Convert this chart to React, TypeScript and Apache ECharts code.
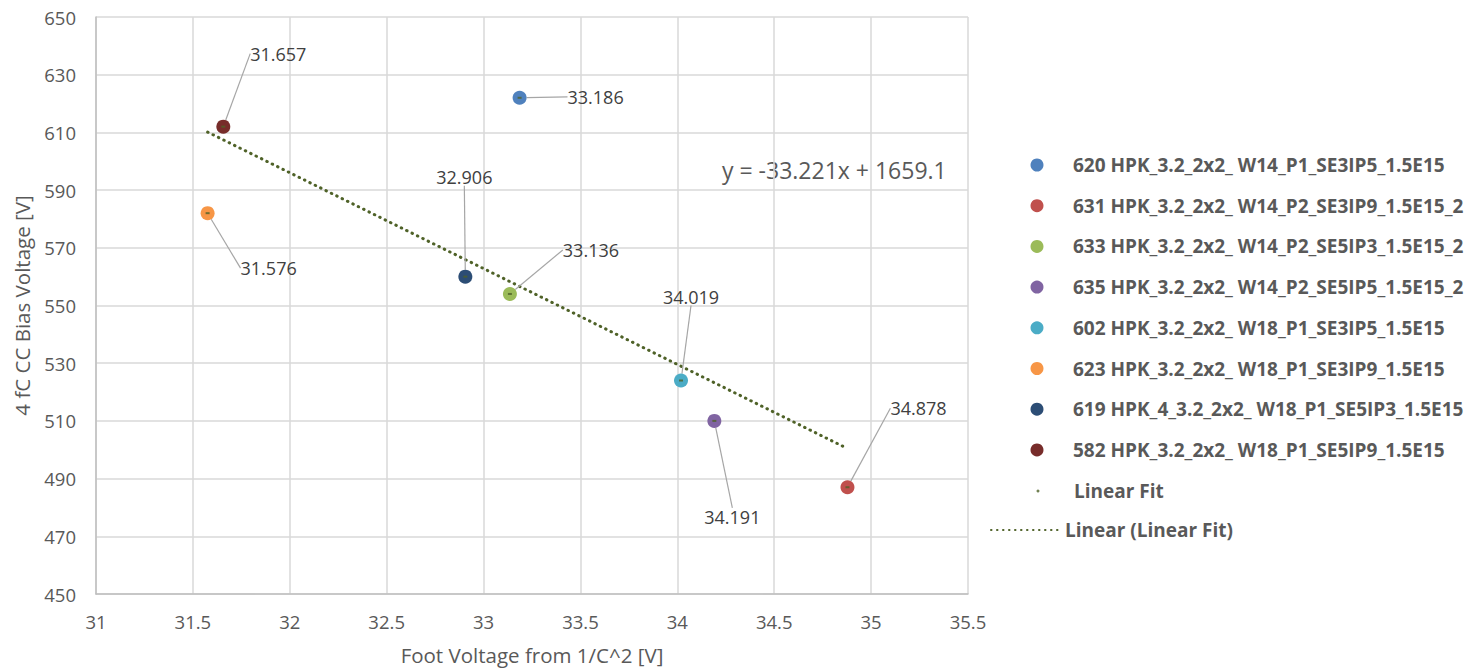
import React, { useEffect, useRef } from "react";
import * as echarts from "echarts";

// ---- data ----
const deviceNames = [
  "620 HPK_3.2_2x2_ W14_P1_SE3IP5_1.5E15",
  "631 HPK_3.2_2x2_ W14_P2_SE3IP9_1.5E15_2",
  "633 HPK_3.2_2x2_ W14_P2_SE5IP3_1.5E15_2",
  "635 HPK_3.2_2x2_ W14_P2_SE5IP5_1.5E15_2",
  "602 HPK_3.2_2x2_ W18_P1_SE3IP5_1.5E15",
  "623 HPK_3.2_2x2_ W18_P1_SE3IP9_1.5E15",
  "619 HPK_4_3.2_2x2_ W18_P1_SE5IP3_1.5E15",
  "582 HPK_3.2_2x2_ W18_P1_SE5IP9_1.5E15",
];
const footVoltage = [33.186, 34.878, 33.136, 34.191, 34.019, 31.576, 32.906, 31.657];
const biasVoltage = [622, 487, 554, 510, 524, 582, 560, 612];
const fitName = "Linear Fit";
const trendName = "Linear (Linear Fit)";
const fitSlope = -33.221;
const fitIntercept = 1659.1;
const xTicks = { min: 31, max: 35.5, interval: 0.5 };
const yTicks = { min: 450, max: 650, interval: 20 };

// ---- styles ----
const deviceColors = ["#4F81BD", "#C0504D", "#9BBB59", "#8064A2", "#4BACC6", "#F79646", "#2C4D75", "#772C2A"];
const fitColor = "#4F6228";
const labelOffsets: [number, number][] = [
  [76, -1],
  [71, -79],
  [81, -44],
  [18, 96],
  [10, -84],
  [61, 55],
  [-1, -100],
  [55, -73],
];
const FONT = "'Open Sans', 'Noto Sans', sans-serif";
const TXT = "#595959";
const legendText = { color: TXT, fontSize: 19, fontWeight: "bold", fontFamily: FONT, lineHeight: 20 };

export default function App() {
  const ref = useRef<HTMLDivElement>(null);
  useEffect(() => {
    if (!ref.current) return;
    const chart = echarts.init(ref.current, undefined, { renderer: "svg" });

    const xMinData = Math.min(...footVoltage);
    const xMaxData = Math.max(...footVoltage);
    const trend = [xMinData, xMaxData].map((x) => [x, fitSlope * x + fitIntercept]);

    const deviceSeries = deviceNames.map((name, i) => ({
      name,
      type: "scatter",
      data: [[footVoltage[i], biasVoltage[i]]],
      symbol: "circle",
      symbolSize: 14,
      itemStyle: { color: deviceColors[i], opacity: 1 },
      z: 3,
      label: {
        show: true,
        position: "inside",
        formatter: (p: any) => p.value[0].toFixed(3),
        color: "#404040",
        fontFamily: FONT,
        fontSize: 18,
      },
      labelLine: { show: true, lineStyle: { color: "#A6A6A6", width: 1.2 } },
      labelLayout: { dx: labelOffsets[i][0], dy: labelOffsets[i][1] },
      emphasis: { disabled: true },
    }));

    const option: any = {
      animation: false,
      textStyle: { fontFamily: FONT },
      grid: { left: 96, right: 516, top: 17, bottom: 74, containLabel: false, outerBoundsMode: "none" },
      xAxis: {
        type: "value",
        min: xTicks.min,
        max: xTicks.max,
        interval: xTicks.interval,
        name: "Foot Voltage from 1/C^2 [V]",
        nameLocation: "middle",
        nameGap: 50,
        nameTextStyle: { color: TXT, fontSize: 20.5, fontFamily: FONT },
        axisLine: { show: true, lineStyle: { color: "#BFBFBF", width: 1.5 } },
        axisTick: { show: false },
        axisLabel: { color: TXT, fontSize: 18.5, margin: 18, fontFamily: FONT },
        splitLine: { show: true, lineStyle: { color: "#D9D9D9", width: 1.5 } },
      },
      yAxis: {
        type: "value",
        min: yTicks.min,
        max: yTicks.max,
        interval: yTicks.interval,
        name: "4 fC CC Bias Voltage [V]",
        nameLocation: "middle",
        nameGap: 64,
        nameRotate: 90,
        nameTextStyle: { color: TXT, fontSize: 20.5, fontFamily: FONT },
        axisLine: { show: true, lineStyle: { color: "#BFBFBF", width: 1.5 } },
        axisTick: { show: false },
        axisLabel: { color: TXT, fontSize: 18.5, margin: 20, fontFamily: FONT },
        splitLine: { show: true, lineStyle: { color: "#D9D9D9", width: 1.5 } },
      },
      legend: [
        {
          data: deviceNames,
          orient: "vertical",
          left: 1030.5,
          top: 155,
          padding: 0,
          itemWidth: 62,
          itemHeight: 13,
          itemGap: 20.7,
          icon: "circle",
          textStyle: legendText,
          selectedMode: false,
        },
        {
          data: [fitName],
          orient: "vertical",
          left: 1036.5,
          top: 481,
          padding: 0,
          itemWidth: 62,
          itemHeight: 3,
          icon: "circle",
          textStyle: legendText,
          selectedMode: false,
        },
        {
          data: [trendName],
          orient: "vertical",
          left: 990,
          top: 520,
          padding: 0,
          itemWidth: 69,
          itemHeight: 14,
          itemStyle: { opacity: 0 },
          textStyle: legendText,
          selectedMode: false,
        },
      ],
      graphic: [
        {
          type: "text",
          x: 722,
          y: 170,
          style: { text: "y = -33.221x + 1659.1", fill: TXT, font: `23px ${FONT}`, verticalAlign: "middle" },
        },
      ],
      series: [
        ...deviceSeries,
        {
          name: trendName,
          type: "line",
          data: trend,
          symbol: "none",
          showSymbol: false,
          lineStyle: { color: fitColor, width: 3, type: [0.5, 5.5], cap: "round" },
          itemStyle: { color: fitColor },
          z: 2,
          emphasis: { disabled: true },
        },
        {
          name: fitName,
          type: "scatter",
          data: footVoltage.map((x, i) => [x, biasVoltage[i]]),
          symbol: "rect",
          symbolSize: [4, 2],
          itemStyle: { color: fitColor },
          z: 4,
          emphasis: { disabled: true },
        },
      ],
    };
    chart.setOption(option);
    return () => chart.dispose();
  }, []);
  return <div ref={ref} style={{ position: "absolute", left: 0, top: 0, width: 1484, height: 668 }} />;
}
